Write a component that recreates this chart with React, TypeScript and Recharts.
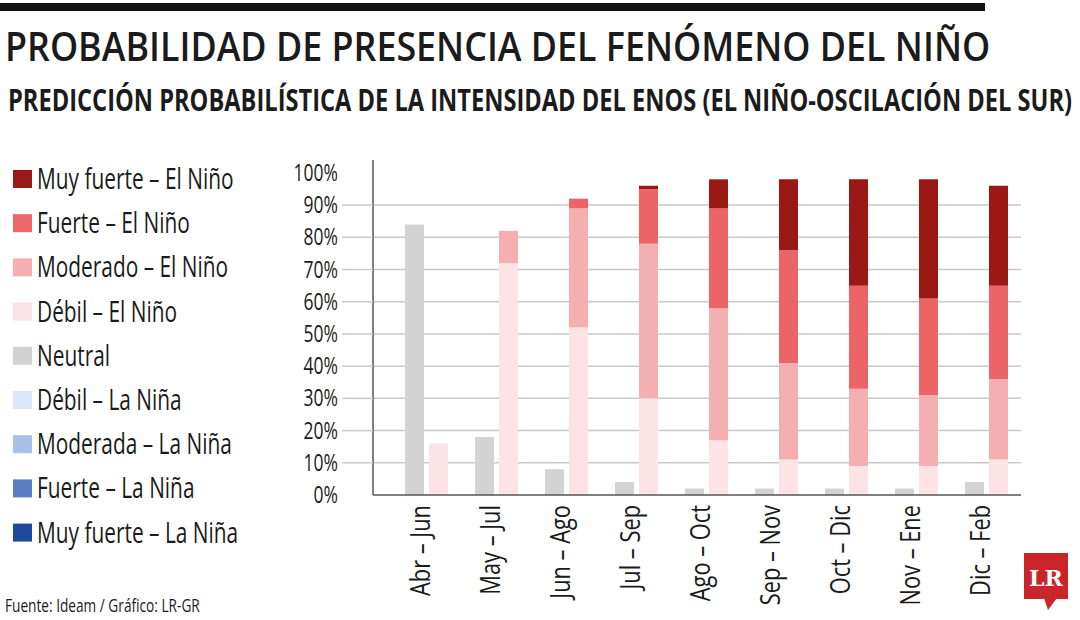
import React from 'react';
import { BarChart, Bar, XAxis, YAxis, CartesianGrid } from 'recharts';

// periodos trimestrales del pronóstico
const periodos = ['Abr – Jun', 'May – Jul', 'Jun – Ago', 'Jul – Sep', 'Ago – Oct', 'Sep – Nov', 'Oct – Dic', 'Nov – Ene', 'Dic – Feb'];

// probabilidades (%)
const neutral = [84, 18, 8, 4, 2, 2, 2, 2, 4];
const debilNino = [16, 72, 52, 30, 17, 11, 9, 9, 11];
const moderadoNino = [0, 10, 37, 48, 41, 30, 24, 22, 25];
const fuerteNino = [0, 0, 3, 17, 31, 35, 32, 30, 29];
const muyFuerteNino = [0, 0, 0, 1, 9, 22, 33, 37, 31];
const debilNina = [0, 0, 0, 0, 0, 0, 0, 0, 0];
const moderadaNina = [0, 0, 0, 0, 0, 0, 0, 0, 0];
const fuerteNina = [0, 0, 0, 0, 0, 0, 0, 0, 0];
const muyFuerteNina = [0, 0, 0, 0, 0, 0, 0, 0, 0];

const yTicks = [0, 10, 20, 30, 40, 50, 60, 70, 80, 90, 100];
const gridValues = [10, 20, 30, 40, 50, 60, 70, 80, 90];

const legendItems = [
  { label: 'Muy fuerte – El Niño', color: '#9c1a16' },
  { label: 'Fuerte – El Niño', color: '#ec656a' },
  { label: 'Moderado – El Niño', color: '#f5afb1' },
  { label: 'Débil – El Niño', color: '#fce2e4' },
  { label: 'Neutral', color: '#d1d1d1' },
  { label: 'Débil – La Niña', color: '#dae6f7' },
  { label: 'Moderada – La Niña', color: '#a7c1e8' },
  { label: 'Fuerte – La Niña', color: '#5a7ec4' },
  { label: 'Muy fuerte – La Niña', color: '#1e4a9e' },
];

const data = periodos.map((p, i) => ({
  periodo: p,
  neutral: neutral[i],
  debilNino: debilNino[i],
  moderadoNino: moderadoNino[i],
  fuerteNino: fuerteNino[i],
  muyFuerteNino: muyFuerteNino[i],
  debilNina: debilNina[i],
  moderadaNina: moderadaNina[i],
  fuerteNina: fuerteNina[i],
  muyFuerteNina: muyFuerteNina[i],
}));

const FONT = '"Open Sans", "Noto Sans", sans-serif';
const INK = '#1b1b1b';
const AXIS_X = 373;

const YTick = (props: any) => {
  const { y, payload } = props;
  const v = payload.value;
  return (
    <g>
      {v > 0 && v < 100 && (
        <line x1={AXIS_X - 31} x2={AXIS_X} y1={y} y2={y} stroke="#c9c9c9" strokeWidth={1.5} />
      )}
      <g transform={`translate(${AXIS_X - 35},${y}) scale(0.76,1)`}>
        <text x={0} y={8} textAnchor="end" fontFamily={FONT} fontSize={23} fill={INK}>
          {v}%
        </text>
      </g>
    </g>
  );
};

const XTick = (props: any) => {
  const { x, payload } = props;
  return (
    <g transform={`translate(${x + 4},505) rotate(-90) scale(0.78,1)`}>
      <text x={0} y={0} textAnchor="end" fontFamily={FONT} fontSize={28} fill={INK}>
        {payload.value}
      </text>
    </g>
  );
};

export default function App() {
  return (
    <div style={{ position: 'absolute', left: 0, top: 0, width: 1080, height: 620, background: '#fff', overflow: 'hidden' }}>
      <div style={{ position: 'absolute', left: 0, top: 0 }}>
        <BarChart
          width={1080}
          height={620}
          data={data}
          margin={{ top: 160, right: 59, bottom: 15, left: 300 }}
          barGap={5}
          barSize={19}
        >
          <CartesianGrid vertical={false} horizontalValues={gridValues} stroke="#c9c9c9" strokeWidth={1.5} />
          <XAxis
            dataKey="periodo"
            interval={0}
            height={110}
            padding={{ left: 18, right: 0 }}
            tickLine={false}
            axisLine={{ stroke: '#555', strokeWidth: 1.5 }}
            tick={<XTick />}
          />
          <YAxis
            width={73}
            domain={[0, 104]}
            ticks={yTicks}
            tickLine={false}
            axisLine={{ stroke: '#555', strokeWidth: 1.5 }}
            tick={<YTick />}
          />
          <Bar dataKey="neutral" stackId="a-neutral" fill="#d3d3d3" isAnimationActive={false} />
          <Bar dataKey="debilNina" stackId="b-enso" fill="#dae6f7" isAnimationActive={false} />
          <Bar dataKey="moderadaNina" stackId="b-enso" fill="#a7c1e8" isAnimationActive={false} />
          <Bar dataKey="fuerteNina" stackId="b-enso" fill="#5a7ec4" isAnimationActive={false} />
          <Bar dataKey="muyFuerteNina" stackId="b-enso" fill="#1e4a9e" isAnimationActive={false} />
          <Bar dataKey="debilNino" stackId="b-enso" fill="#fde3e5" isAnimationActive={false} />
          <Bar dataKey="moderadoNino" stackId="b-enso" fill="#f4afb0" isAnimationActive={false} />
          <Bar dataKey="fuerteNino" stackId="b-enso" fill="#eb6468" isAnimationActive={false} />
          <Bar dataKey="muyFuerteNino" stackId="b-enso" fill="#9b1915" isAnimationActive={false} />
        </BarChart>
      </div>

      <svg width={1080} height={620} style={{ position: 'absolute', left: 0, top: 0, pointerEvents: 'none' }}>
        <rect x={0} y={3} width={985} height={8} fill="#111" />
        <g transform="translate(5,61) scale(0.85,1)">
          <text x={0} y={0} fontFamily={FONT} fontWeight={600} fontSize={40} fill={INK} textLength={1159} lengthAdjust="spacingAndGlyphs">
            PROBABILIDAD DE PRESENCIA DEL FENÓMENO DEL NIÑO
          </text>
        </g>
        <g transform="translate(8,111) scale(0.7,1)">
          <text x={0} y={0} fontFamily={FONT} fontWeight={700} fontSize={31} fill={INK} textLength={1520} lengthAdjust="spacingAndGlyphs">
            PREDICCIÓN PROBABILÍSTICA DE LA INTENSIDAD DEL ENOS (EL NIÑO-OSCILACIÓN DEL SUR)
          </text>
        </g>

        {legendItems.map((it, i) => {
          const cy = 179 + i * 44.2;
          return (
            <g key={it.label}>
              <rect x={13} y={cy - 9} width={19} height={18} fill={it.color} />
              <g transform={`translate(37,${cy + 10}) scale(0.72,1)`}>
                <text x={0} y={0} fontFamily={FONT} fontSize={29} fill={INK}>
                  {it.label}
                </text>
              </g>
            </g>
          );
        })}

        <g transform="translate(5,612) scale(0.76,1)">
          <text x={0} y={0} fontFamily={FONT} fontSize={18} fill={INK}>
            Fuente: Ideam / Gráfico: LR-GR
          </text>
        </g>

        <rect x={1024} y={553} width={44} height={46} fill="#c9252b" />
        <polygon points="1044,598 1057,598 1048,610" fill="#c9252b" />
        <text x={1046} y={586} textAnchor="middle" fontFamily='"DejaVu Serif", serif' fontWeight={700} fontSize={22} fill="#fff">
          LR
        </text>
      </svg>
    </div>
  );
}
